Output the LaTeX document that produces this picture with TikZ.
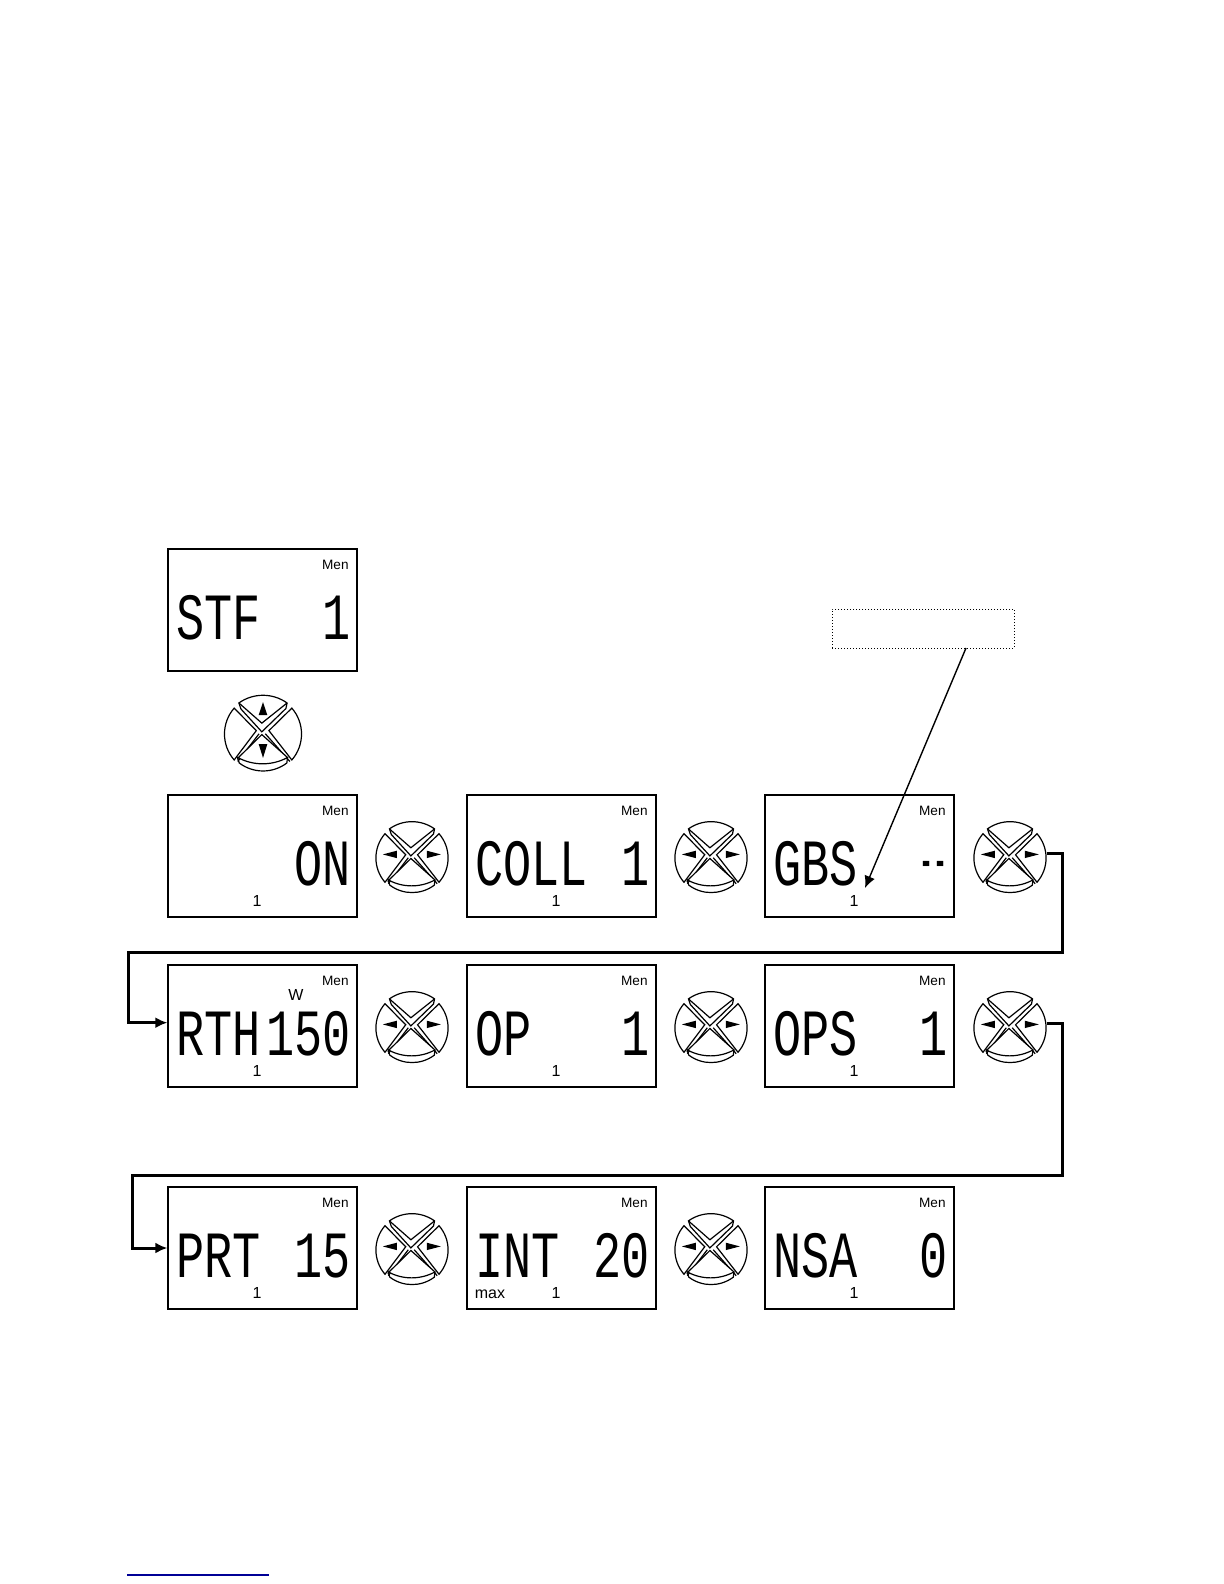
\documentclass[tikz,border=0pt]{standalone}
\usepackage{graphicx}
\usepackage{fontspec}
\usetikzlibrary{arrows.meta}
\setmainfont{Liberation Sans}
\newfontfamily\lcdfont{Liberation Mono}
\definecolor{linkblue}{RGB}{0,0,150}
% keypad body, without arrows
\newcommand{\padbody}{%
  % left and right keys
  \draw[fill=white] (-.73,.63) arc[start angle=139, end angle=221, radius=1] -- (-.17,.06) -- cycle;
  \draw (-.64,-.72) -- (-.1,-.02);
  \draw[fill=white] (.73,.63) arc[start angle=41, end angle=-41, radius=1] -- (.15,.06) -- cycle;
  \draw (.68,-.72) -- (.06,-.02);
  % top key
  \draw[fill=white] (-.61,.76) arc[start angle=125.5, end angle=54.5, radius=1.05] -- (.58,.62) -- (-.03,.03) -- (-.56,.61) -- cycle;
  \draw (-.61,.76) -- (-.03,.25) -- (.61,.76);
  % bottom key with its rim
  \draw[fill=white] (-.64,-.64) -- (-.03,-.04) -- (.62,-.62) arc[start angle=-61.5, end angle=-118.5, radius=1.32] -- cycle;
  \draw (-.64,-.64) -- (-.6,-.76) arc[start angle=-127, end angle=-53, radius=1] -- (.62,-.62);
}
\tikzset{
  screen/.style={draw, line width=.65pt, minimum width=94.5pt, minimum height=61pt, inner sep=0pt},
  men/.style={font=\fontsize{6.8}{8}\selectfont, inner sep=0pt},
  subtext/.style={font=\fontsize{8}{9}\selectfont, inner sep=0pt},
  seg/.style={inner sep=0pt},
  padnode/.style={circle, minimum size=37pt, inner sep=0pt},
  wire/.style={line width=1.5pt, ->},
  padlr/.pic={
    \begin{scope}[scale=37, yscale=-1, line width=.6pt]
      \padbody
      \fill (-.79,.07) -- (-.41,.17) -- (-.41,-.03) -- cycle;
      \fill (.78,.07) -- (.4,.17) -- (.4,-.03) -- cycle;
    \end{scope}
  },
  padud/.pic={
    \begin{scope}[scale=39.5, yscale=-1, line width=.6pt]
      \padbody
      \fill (0,.78) -- (.11,.45) -- (-.11,.45) -- cycle;
      \fill (0,-.63) -- (.11,-.28) -- (-.11,-.28) -- cycle;
    \end{scope}
  }
}
% name, left, top, left text, right text, small digit
\newcommand{\lcdbox}[6]{%
  \node[screen] (#1) at (#2+94.5,#3+61) {};
  \node[men, anchor=east] (#1men) at (#2+181,#3+16) {Men};
  \if\relax\detokenize{#4}\relax\else
    \node[seg, anchor=base west] (#1left) at (#2+8,#3+90) {\scalebox{.71}[1]{\lcdfont\fontsize{33}{33}\selectfont #4}};
  \fi
  \node[seg, anchor=base east] (#1right) at (#2+183,#3+90) {\scalebox{.71}[1]{\lcdfont\fontsize{33}{33}\selectfont #5}};
  \if\relax\detokenize{#6}\relax\else
    \node[subtext] (#1sub) at (#2+89,#3+106) {#6};
  \fi
}
\newcommand{\padlr}[3]{%
  \node[padnode] (#1) at (#2,#3) {};
  \pic at (#1) {padlr};
}
\begin{document}
\begin{tikzpicture}[>={Latex[length=6pt,width=5.5pt]}, x=.5pt, y=-.5pt]
\useasboundingbox (0,0) rectangle (1224,1584);
% first screen and up/down key
\lcdbox{stf}{168}{549}{STF}{1}{}
\node[padnode] (padstf) at (263,733) {};
\pic at (padstf) {padud};
% row 1
\lcdbox{on}{168}{795}{}{ON}{1}
\lcdbox{coll}{467}{795}{COLL}{1}{1}
\lcdbox{gbs}{765}{795}{GBS}{\raisebox{2pt}{\scalebox{.5}[1]{--}}}{1}
\padlr{padon}{412}{857}
\padlr{padcoll}{711}{857}
\padlr{padgbs}{1010}{857}
% row 2
\lcdbox{rth}{168}{965}{RTH}{150}{1}
\node[subtext] (rthw) at (296,995) {W};
\lcdbox{op}{467}{965}{OP}{1}{1}
\lcdbox{ops}{765}{965}{OPS}{1}{1}
\padlr{padrth}{412}{1027}
\padlr{padop}{711}{1027}
\padlr{padops}{1010}{1027}
% row 3
\lcdbox{prt}{168}{1187}{PRT}{15}{1}
\lcdbox{int}{467}{1187}{INT}{20}{1}
\node[subtext] (intmax) at (490,1294) {max};
\lcdbox{nsa}{765}{1187}{NSA}{0}{1}
\padlr{padprt}{412}{1249}
\padlr{padint}{711}{1249}
% empty note and its arrow
\node[draw, densely dotted, line width=.5pt, minimum width=91pt, minimum height=19.5pt, inner sep=0pt] (note) at (923,628.5) {};
\coordinate (notefoot) at (966,648);
\coordinate (gbstip) at (865,888);
\draw[->, line width=.7pt] (notefoot) -- (gbstip);
% wires between rows
\coordinate (turna) at (1062,952);
\coordinate (turnb) at (128,952);
\coordinate (turnc) at (1062,1175);
\coordinate (turnd) at (132,1175);
\draw[wire] (padgbs.6) -| (turna) -- (turnb) |- (rth.178);
\draw[wire] (padops.6) -| (turnc) -- (turnd) |- (prt.west);
% link rule at page foot
\draw[linkblue, line width=.6pt] (127,1575) -- (269,1575);
\end{tikzpicture}
\end{document}
